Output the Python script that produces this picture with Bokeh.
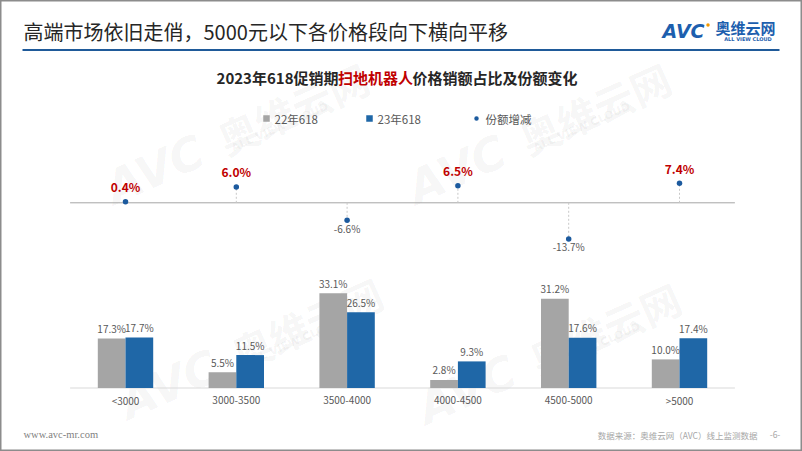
import math
from bokeh.plotting import figure
from bokeh.models import Range1d, ColumnDataSource
from bokeh.transform import dodge
from bokeh.core.properties import value
from bokeh.embed import file_html
from bokeh.resources import INLINE

# ---------------- data ----------------
categories = ["<3000", "3000-3500", "3500-4000", "4000-4500", "4500-5000", ">5000"]
share_22 = [17.3, 5.5, 33.1, 2.8, 31.2, 10.0]
share_23 = [17.7, 11.5, 26.5, 9.3, 17.6, 17.4]
share_change = [0.4, 6.0, -6.6, 6.5, -13.7, 7.4]

title_text = "高端市场依旧走俏，5000元以下各价格段向下横向平移"
subtitle_parts = ["2023年618促销期", "扫地机器人", "价格销额占比及份额变化"]
legend_labels = ["22年618", "23年618", "份额增减"]
footer_left = "www.avc-mr.com"
footer_right = "数据来源：奥维云网（AVC）线上监测数据"
page_no = "-6-"

# ---------------- layout constants ----------------
W, H = 802, 451
FONT = value("Noto Sans CJK SC")
GRAY = "#a5a5a5"
BLUE = "#1f67a7"
DOT = "#1c5a9e"
RED = "#c00000"
TXT = "#595959"

n = len(categories)
UNIT = 110.8                          # px per category
LEFT = 69.6                           # px of the first category's left edge
BAR_PX = 2.86                         # px per % (bars)
BASE_B = H - 387.5                    # bar baseline distance from bottom
CHG_PX = 2.64                         # px per % (change dots)
LINE_B = H - 202.3

p = figure(width=W, height=H, output_backend="svg", toolbar_location=None,
           x_range=Range1d(-LEFT / UNIT, (W - LEFT) / UNIT),
           y_range=Range1d(-BASE_B / BAR_PX, (H - BASE_B) / BAR_PX),
           x_axis_location=None, y_axis_location=None, min_border=0)
p.grid.visible = False
p.outline_line_color = "#8c8c8c"
p.outline_line_width = 2
p.background_fill_color = "white"
p.border_fill_color = "white"
p.extra_y_ranges = {"chg": Range1d(-LINE_B / CHG_PX, (H - LINE_B) / CHG_PX),
                    "px": Range1d(H, 0)}
p.extra_x_ranges = {"px": Range1d(0, W)}

def ptext(x, y, t, size, color, align="left", baseline="middle", style="normal", font=FONT, angle=0, alpha=1.0):
    p.text(x=[x], y=[y], text=[t], x_range_name="px", y_range_name="px",
           text_font=font, text_font_size=size, text_color=color, text_align=align,
           text_baseline=baseline, text_font_style=style, angle=angle, text_alpha=alpha)

# ---------------- watermarks ----------------
ang = 0.42
for (wx, wy) in [(108, 190), (410, 190), (122, 405), (420, 410)]:
    ptext(wx, wy, "AVC", "46px", "#000000", baseline="alphabetic", style="bold italic",
          font=value("DejaVu Sans"), angle=ang, alpha=0.05)
    d = 122
    ptext(wx + d * math.cos(ang), wy - d * math.sin(ang), "奥维云网", "40px", "#000000",
          baseline="alphabetic", style="bold", angle=ang, alpha=0.05)
    ptext(wx + 130 * math.cos(ang) + 12 * math.sin(ang), wy - 130 * math.sin(ang) + 12 * math.cos(ang),
          "ALL VIEW CLOUD", "11px", "#000000", baseline="alphabetic", style="bold",
          font=value("DejaVu Sans"), angle=ang, alpha=0.05)

# ---------------- header ----------------
ptext(23, 31, title_text, "20px", "#262626")
p.segment(x0=[22], y0=[49.5], x1=[779], y1=[49.5], x_range_name="px", y_range_name="px",
          line_color="#1f5a99", line_width=2)
ptext(662, 30, "AVC", "19px", "#1d5fae", style="bold italic", font=value("DejaVu Sans"))
p.scatter(x=[707.5], y=[24.5], x_range_name="px", y_range_name="px", size=3.5,
          color="#f39800", line_color=None)
ptext(715, 27, "奥维云网", "15px", "#1d5fae", style="bold")
ptext(747.5, 38.5, "ALL VIEW CLOUD", "5px", "#1d5fae", align="center", style="bold",
      font=value("DejaVu Sans"))

# subtitle
ptext(338, 77, subtitle_parts[0], "15px", "#262626", align="right", style="bold")
ptext(375, 77, subtitle_parts[1], "15px", RED, align="center", style="bold")
ptext(412, 77, subtitle_parts[2], "15px", "#262626", style="bold")

# legend
p.scatter(x=[266, 369], y=[118, 118], x_range_name="px", y_range_name="px", marker="square",
          size=6.5, color=[GRAY, BLUE], line_color=None)
p.scatter(x=[476], y=[118], x_range_name="px", y_range_name="px", size=4.5, color=DOT, line_color=None)
ptext(274, 118, legend_labels[0], "11.5px", TXT)
ptext(377, 118, legend_labels[1], "11.5px", TXT)
ptext(485, 118, legend_labels[2], "11.5px", TXT)

# footer
ptext(23, 434, footer_left, "10.5px", "#7f7f7f", font=value("Liberation Serif"))
ptext(757, 434, footer_right, "8.5px", "#a6a6a6", align="right")
ptext(774.5, 434, page_no, "8.5px", "#a6a6a6", align="center")

# ---------------- data marks ----------------
src = ColumnDataSource(dict(
    xc=[i + 0.5 for i in range(n)],
    cat=categories, s22=share_22, s23=share_23, chg=share_change,
    l22=[f"{v:.1f}%" for v in share_22], l23=[f"{v:.1f}%" for v in share_23],
))

# baseline of bars
p.segment(x0=[0], y0=[0], x1=[n], y1=[0], line_color="#d9d9d9", line_width=1)
p.vbar(x=dodge("xc", -0.125), top="s22", width=0.25, source=src,
       fill_color=GRAY, line_color=None)
p.vbar(x=dodge("xc", 0.125), top="s23", width=0.25, source=src,
       fill_color=BLUE, line_color=None)
p.text(x=dodge("xc", -0.125), y="s22", text="l22", source=src,
       text_align="center", text_baseline="middle", y_offset=-10, text_font=FONT,
       text_font_size="10px", text_color=TXT)
p.text(x=dodge("xc", 0.125), y="s23", text="l23", source=src,
       text_align="center", text_baseline="middle", y_offset=-10, text_font=FONT,
       text_font_size="10px", text_color=TXT)
p.text(x="xc", y=0, text="cat", source=src, text_align="center", text_baseline="middle",
       y_offset=12, text_font=FONT, text_font_size="10px", text_color=TXT)

# change dots
p.segment(x0=[0], y0=[0], x1=[n], y1=[0], y_range_name="chg", line_color="#a6a6a6", line_width=1)
p.segment(x0="xc", y0=0, x1="xc", y1="chg", source=src, y_range_name="chg",
          line_color="#c8c8c8", line_dash="2 2", line_width=1)
p.scatter(x="xc", y="chg", source=src, y_range_name="chg", size=5.5, color=DOT, line_color=None)

pos = ColumnDataSource(dict(
    xc=[i + 0.5 for i, v in enumerate(share_change) if v >= 0],
    chg=[v for v in share_change if v >= 0],
    lab=[f"{v:.1f}%" for v in share_change if v >= 0]))
neg = ColumnDataSource(dict(
    xc=[i + 0.5 for i, v in enumerate(share_change) if v < 0],
    chg=[v for v in share_change if v < 0],
    lab=[f"{v:.1f}%" for v in share_change if v < 0]))
p.text(x="xc", y="chg", text="lab", source=pos, y_range_name="chg", text_align="center",
       text_baseline="middle", y_offset=-15, text_font=FONT, text_font_size="12px",
       text_font_style="bold", text_color=RED)
p.text(x="xc", y="chg", text="lab", source=neg, y_range_name="chg", text_align="center",
       text_baseline="middle", y_offset=8, text_font=FONT, text_font_size="10px",
       text_color=TXT)

open("out.html", "w").write(file_html(p, INLINE))
